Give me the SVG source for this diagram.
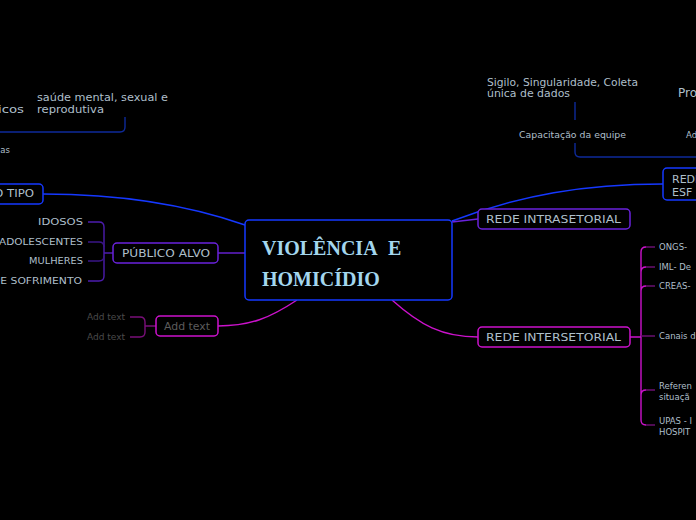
<svg xmlns="http://www.w3.org/2000/svg" width="696" height="520" viewBox="0 0 696 520">
<style>
text{font-family:"DejaVu Sans","Liberation Sans",sans-serif;fill:#aebfca}
.lb{font-size:11px}
.sm{font-size:8.5px}
.md{font-size:10.5px}
.gray{fill:#5c5c5c}
.dg{fill:#4a4a4a}
.box{fill:#000;stroke-width:1.5}
.blue{stroke:#1538ff}
.purple{stroke:#6a22dd}
.mag{stroke:#cc12cc}
.c{fill:none;stroke-width:1.4}
.title{font-family:"Liberation Serif","Times New Roman",serif;font-weight:bold;font-size:20px;fill:#a3d6ee}
</style>
<rect width="696" height="520" fill="#000"/>
<g id="connectors">
<path class="c blue" d="M245,225 C185,204 120,194 43,194"/>
<path class="c purple" d="M218,253 L245,253"/>
<path class="c mag" d="M297,300 C270,318 250,326 218,326"/>
<path class="c blue" d="M452,221 C520,195 585,184 663,184"/>
<path class="c purple" d="M452,222 L478,219"/>
<path class="c mag" d="M392,300 C420,325 442,337 478,337"/>
<path class="c" stroke="#0e2a9a" d="M0,132 L120,132 Q125,132 125,127 L125,117"/>
<path class="c" stroke="#0e2a9a" d="M575,102 L575,120 M575,143 L575,152 Q575,157 580,157 L696,157"/>
<path class="c" stroke="#4c1cae" d="M113,253 L104,253 M88,222 L99,222 Q104,222 104,227 L104,276 Q104,281 99,281 L88,281"/>
<path class="c" stroke="#3a1687" d="M88,242 L99,242 Q104,242 104,247 M88,261 L99,261 Q104,261 104,256"/>
<path class="c" stroke="#7a0f7a" d="M156,326 L145,326 M130,317 L140,317 Q145,317 145,322 L145,332 Q145,337 140,337 L130,337"/>
<path class="c" stroke="#cc12cc" d="M630,337 L641,337 M641,252 Q641,247 646,247 M641,252 L641,420 Q641,425 646,425 M641,272 Q641,267 646,267 M641,291 Q641,286 646,286 M641,395 Q641,390 646,390"/>
<path class="c" stroke="#6a1070" d="M646,247 L655,247 M646,267 L655,267 M646,286 L655,286 M641,336 L655,336 M646,390 L655,390 M646,425 L655,425"/>
</g>
<g id="central">
<rect class="box blue" x="245" y="220" width="207" height="80" rx="4"/>
<text class="title" x="262" y="255">VIOLÊNCIA</text>
<text class="title" x="388" y="255">E</text>
<text class="title" x="262" y="286">HOMICÍDIO</text>
</g>
<g id="tipo">
<rect class="box blue" x="-10" y="184" width="53" height="20" rx="4"/>
<text class="lb" x="34" y="197" text-anchor="end" textLength="40" lengthAdjust="spacingAndGlyphs">O TIPO</text>
</g>
<g id="topleft">
<text class="md" x="37" y="101" textLength="131" lengthAdjust="spacingAndGlyphs">saúde mental, sexual e</text>
<text class="md" x="37" y="113" textLength="67" lengthAdjust="spacingAndGlyphs">reprodutiva</text>
<text class="md" x="24" y="113" text-anchor="end" textLength="26" lengthAdjust="spacingAndGlyphs">icos</text>
<text class="sm" x="10" y="153" text-anchor="end">as</text>
</g>
<g id="publico">
<rect class="box purple" x="113" y="243" width="105" height="20" rx="4"/>
<text class="lb" x="122" y="257" textLength="88" lengthAdjust="spacingAndGlyphs">PÚBLICO ALVO</text>
<text class="sm" x="83" y="225" text-anchor="end" textLength="45" lengthAdjust="spacingAndGlyphs">IDOSOS</text>
<text class="sm" x="83" y="245" text-anchor="end" textLength="84" lengthAdjust="spacingAndGlyphs">ADOLESCENTES</text>
<text class="sm" x="83" y="264" text-anchor="end" textLength="54" lengthAdjust="spacingAndGlyphs">MULHERES</text>
<text class="sm" x="82" y="284" text-anchor="end" textLength="90" lengthAdjust="spacingAndGlyphs">DE SOFRIMENTO</text>
</g>
<g id="addtext">
<rect class="box mag" x="156" y="316" width="62" height="20" rx="4"/>
<text class="lb gray" x="164" y="330" textLength="46" lengthAdjust="spacingAndGlyphs">Add text</text>
<text class="sm dg" x="87" y="320" textLength="38" lengthAdjust="spacingAndGlyphs">Add text</text>
<text class="sm dg" x="87" y="340" textLength="38" lengthAdjust="spacingAndGlyphs">Add text</text>
</g>
<g id="intrasetorial">
<rect class="box purple" x="478" y="209" width="152" height="20" rx="4"/>
<text class="lb" x="486" y="223" textLength="135" lengthAdjust="spacingAndGlyphs">REDE INTRASETORIAL</text>
</g>
<g id="esf">
<rect class="box blue" x="663" y="168" width="50" height="32" rx="4"/>
<text class="lb" x="672" y="183">REDE</text>
<text class="lb" x="672" y="196">ESF</text>
</g>
<g id="topright">
<text class="md" x="487" y="86" textLength="151" lengthAdjust="spacingAndGlyphs">Sigilo, Singularidade, Coleta</text>
<text class="md" x="487" y="97" textLength="83" lengthAdjust="spacingAndGlyphs">única de dados</text>
<text class="sm" x="519" y="138" textLength="107" lengthAdjust="spacingAndGlyphs">Capacitação da equipe</text>
<text x="678" y="97" style="font-size:12px">Pro</text>
<text class="sm" x="686" y="138">Ad</text>
</g>
<g id="intersetorial">
<rect class="box mag" x="478" y="327" width="152" height="20" rx="4"/>
<text class="lb" x="486" y="341" textLength="135" lengthAdjust="spacingAndGlyphs">REDE INTERSETORIAL</text>
<text class="sm" x="659" y="250">ONGS-</text>
<text class="sm" x="659" y="270">IML- De</text>
<text class="sm" x="659" y="289">CREAS-</text>
<text class="sm" x="659" y="339">Canais de</text>
<text class="sm" x="659" y="389">Referen</text>
<text class="sm" x="659" y="400">situaçã</text>
<text class="sm" x="659" y="424">UPAS - I</text>
<text class="sm" x="659" y="435">HOSPIT</text>
</g>
</svg>
